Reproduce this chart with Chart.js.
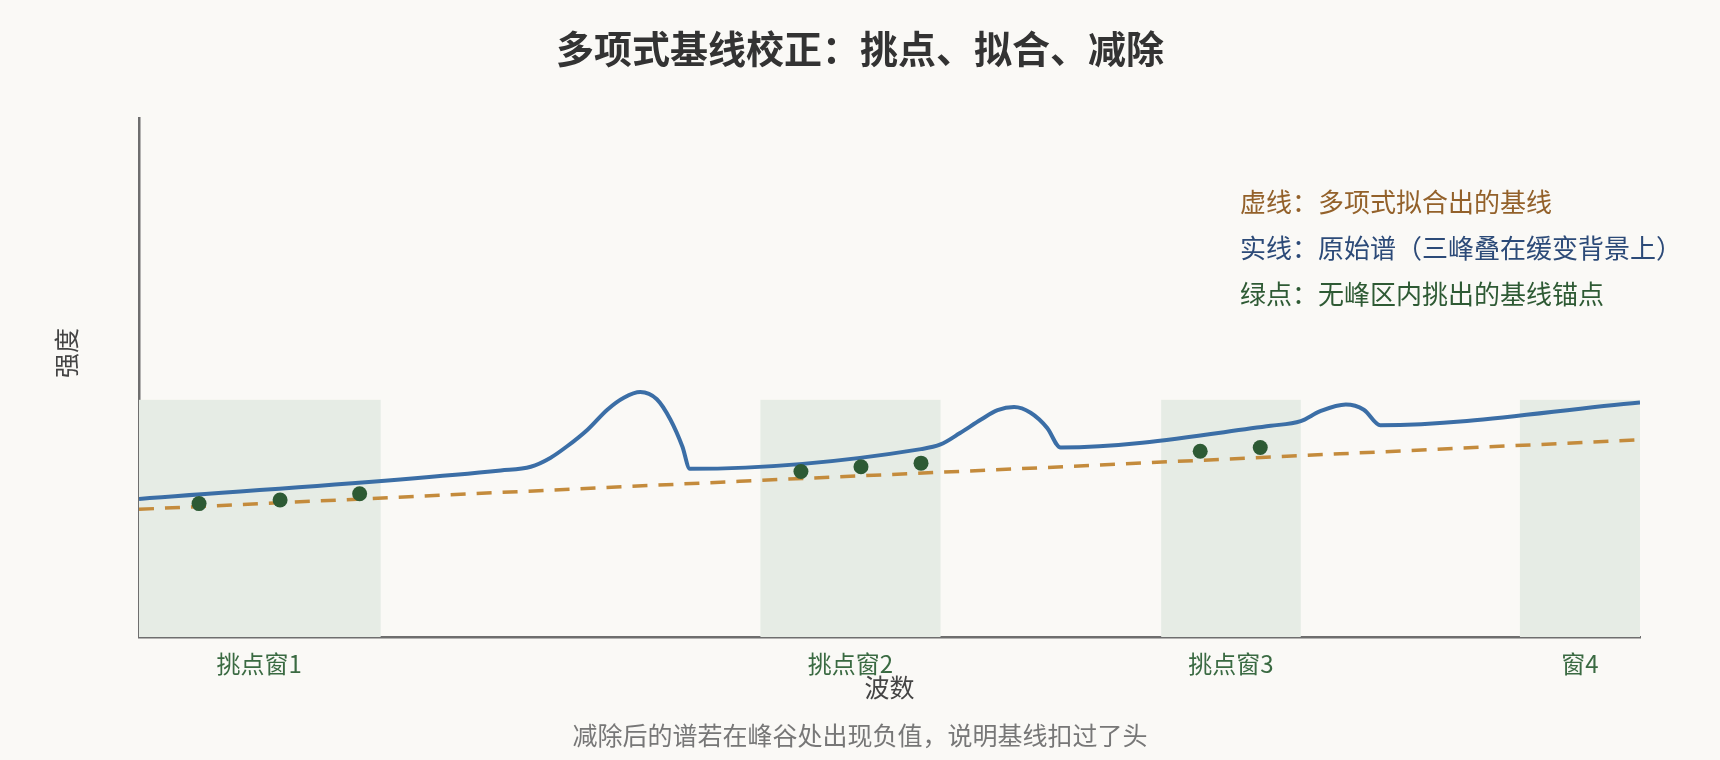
<!DOCTYPE html>
<html>
<head>
<meta charset="utf-8">
<script src="https://cdn.jsdelivr.net/npm/chart.js@4/dist/chart.umd.min.js"></script>
<style>
  html, body { margin: 0; padding: 0; background: #faf9f6; }
  #wrap { width: 1720px; height: 760px; }
</style>
</head>
<body>
<div id="wrap"><canvas id="chart" width="1720" height="760"></canvas></div>
<script>
// raw spectrum (three peaks on a slowly rising background)
var spectrumX = [0, 24.1, 26.1, 27.4, 28.5, 29.9, 31.2, 32.3, 33.4, 34.5, 35.4, 36.2, 36.7,
                 52.1, 53.4, 54.7, 56.1, 57.2, 58.3, 59.4, 60.5, 61.4,
                 75.4, 77.4, 78.7, 80.4, 81.6, 82.7, 100];
var spectrumY = [26.6, 32.1, 32.8, 34.5, 36.7, 40.0, 43.8, 46.1, 47.2, 45.8, 41.9, 36.7, 32.4,
                 36.2, 37.1, 39.3, 41.9, 43.7, 44.3, 43.2, 40.3, 36.5,
                 40.7, 41.6, 43.5, 44.8, 43.8, 40.8, 45.2];

// fitted polynomial baseline
var baselineX = [0, 20, 40, 60, 80, 100];
var baselineY = [24.6, 27.3, 30.0, 32.6, 35.3, 38.0];

// anchor points picked in the peak-free windows
var anchorX = [4.0, 9.4, 14.7, 44.1, 48.1, 52.1, 70.7, 74.7];
var anchorY = [25.7, 26.4, 27.6, 31.9, 32.8, 33.5, 35.8, 36.5];

// picking windows
var windowStart = [0, 41.4, 68.1, 92];
var windowEnd = [16.1, 53.4, 77.4, 100];
var windowTop = 45.7;
var windowLabels = ['挑点窗1', '挑点窗2', '挑点窗3', '窗4'];
var tickPositions = [8, 47.4, 72.75, 96];

var FONT = '"Noto Sans CJK SC", "Noto Sans", sans-serif';

function pts(xs, ys) {
    return xs.map(function(x, i){ return {x: x, y: ys[i]}; });
}

var bgPlugin = {
    id: 'bg',
    beforeDraw: function(chart){
        var ctx = chart.ctx;
        ctx.save();
        ctx.fillStyle = '#faf9f6';
        ctx.fillRect(0, 0, chart.width, chart.height);
        ctx.restore();
    }
};

var windowsPlugin = {
    id: 'windows',
    beforeDatasetsDraw: function(chart){
        var ctx = chart.ctx;
        var xs = chart.scales.x, ys = chart.scales.y;
        ctx.save();
        ctx.fillStyle = '#e6ece5';
        windowStart.forEach(function(s, i){
            var x0 = xs.getPixelForValue(s);
            var x1 = xs.getPixelForValue(windowEnd[i]);
            var y0 = ys.getPixelForValue(windowTop);
            var y1 = ys.getPixelForValue(0);
            ctx.fillRect(x0, y0, x1 - x0, y1 - y0);
        });
        ctx.restore();
    }
};

var notesPlugin = {
    id: 'notes',
    afterDraw: function(chart){
        var ctx = chart.ctx;
        var ca = chart.chartArea;
        ctx.save();
        ctx.textBaseline = 'middle';

        // title
        ctx.textAlign = 'center';
        ctx.fillStyle = '#333333';
        ctx.font = 'bold 38px ' + FONT;
        ctx.fillText('多项式基线校正：挑点、拟合、减除', chart.width / 2, 49);

        // notes in the upper right
        ctx.textAlign = 'left';
        ctx.font = '26px ' + FONT;
        var lx = ca.right - 400;
        ctx.fillStyle = '#93612a';
        ctx.fillText('虚线：多项式拟合出的基线', lx, ca.top + 84);
        ctx.fillStyle = '#2c4a78';
        ctx.fillText('实线：原始谱（三峰叠在缓变背景上）', lx, ca.top + 130);
        ctx.fillStyle = '#2e5a34';
        ctx.fillText('绿点：无峰区内挑出的基线锚点', lx, ca.top + 176);

        // x axis title
        ctx.textAlign = 'center';
        ctx.fillStyle = '#444444';
        ctx.font = '25px ' + FONT;
        ctx.fillText('波数', (ca.left + ca.right) / 2, ca.bottom + 50);

        // y axis title
        ctx.save();
        ctx.translate(ca.left - 73, ca.top + 235);
        ctx.rotate(-Math.PI / 2);
        ctx.fillText('强度', 0, 0);
        ctx.restore();

        // footer note
        ctx.fillStyle = '#777777';
        ctx.font = '25px ' + FONT;
        ctx.fillText('减除后的谱若在峰谷处出现负值，说明基线扣过了头', chart.width / 2, 735);
        ctx.restore();
    }
};

new Chart(document.getElementById('chart'), {
    type: 'line',
    data: {
        datasets: [{
            label: '锚点',
            type: 'scatter',
            data: pts(anchorX, anchorY),
            backgroundColor: '#2d5a34',
            borderColor: '#2d5a34',
            pointRadius: 7.5,
            pointBorderWidth: 0,
            order: 0
        }, {
            label: '原始谱',
            data: pts(spectrumX, spectrumY),
            borderColor: '#3b6ea6',
            borderWidth: 4,
            pointRadius: 0,
            fill: false,
            cubicInterpolationMode: 'monotone',
            order: 1
        }, {
            label: '基线',
            data: pts(baselineX, baselineY),
            borderColor: '#c48b3c',
            borderWidth: 3.5,
            borderDash: [15, 11],
            pointRadius: 0,
            fill: false,
            order: 2
        }]
    },
    options: {
        responsive: false,
        animation: false,
        layout: { padding: { left: 139, right: 80, top: 118, bottom: 0 } },
        plugins: {
            legend: { display: false },
            tooltip: { enabled: false },
            title: { display: false }
        },
        scales: {
            x: {
                type: 'linear',
                min: 0,
                max: 100,
                grid: { display: false, drawTicks: false },
                border: { display: true, color: '#6e6e6e', width: 2.5 },
                afterBuildTicks: function(scale){
                    scale.ticks = tickPositions.map(function(v){ return {value: v}; });
                },
                afterFit: function(scale){ scale.height = 123; },
                ticks: {
                    autoSkip: false,
                    maxRotation: 0,
                    padding: 15,
                    color: '#3a6a42',
                    font: { family: FONT, size: 24, lineHeight: 1 },
                    callback: function(v, i){ return windowLabels[i]; }
                }
            },
            y: {
                min: 0,
                max: 100,
                grid: { display: false, drawTicks: false },
                border: { display: true, color: '#6e6e6e', width: 2.5 },
                afterFit: function(scale){ scale.width = 0; },
                ticks: { display: false }
            }
        }
    },
    plugins: [bgPlugin, windowsPlugin, notesPlugin]
});
</script>
</body>
</html>
